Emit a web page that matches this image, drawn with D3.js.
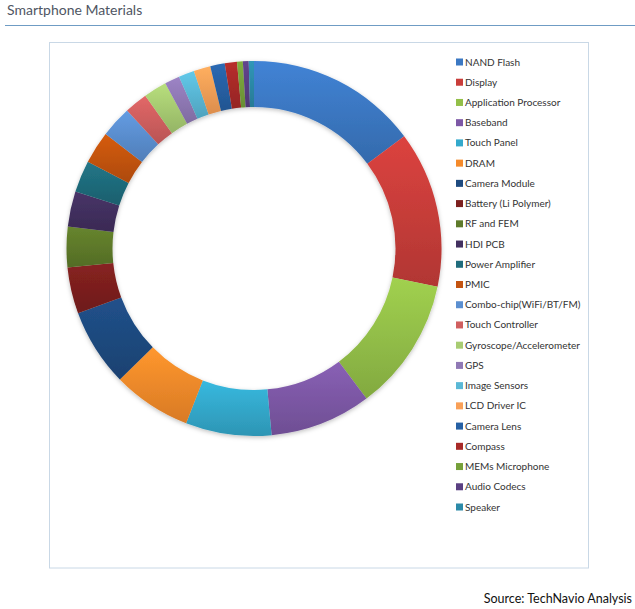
<!DOCTYPE html>
<html><head><meta charset="utf-8">
<script src="https://cdn.jsdelivr.net/npm/d3@7"></script>
<style>
html,body{margin:0;padding:0;background:#fff;}
svg{display:block;}
</style></head>
<body>
<script>
const categories = ["NAND Flash","Display","Application Processor","Baseband","Touch Panel","DRAM","Camera Module","Battery (Li Polymer)","RF and FEM","HDI PCB","Power Amplifier","PMIC","Combo-chip(WiFi/BT/FM)","Touch Controller","Gyroscope/Accelerometer","GPS","Image Sensors","LCD Driver IC","Camera Lens","Compass","MEMs Microphone","Audio Codecs","Speaker"];
const shares = [14.8,13.5,11.5,8.75,7.4,6.8,6.7,4.0,3.5,3.05,2.75,2.8,2.7,2.0,2.0,1.3,1.35,1.45,1.25,1.05,0.5,0.5,0.45];
const colors = ["#3b78c3","#c93d3a","#93bf48","#7d58a6","#33a9cc","#f58a2a","#1e4a7f","#7c1f1e","#5e7a2a","#42305f","#1f6c7c","#c45410","#5b8fd0","#d05f5f","#a8cc72","#9079b5","#5ab8d6","#f9a057","#2660a4","#a82a28","#76a03a","#5a3f82","#2c8aa8"];
const title = "Smartphone Materials";
const source = "Source: TechNavio Analysis";

const W = 635, H = 609;
const svg = d3.select("body").append("svg").attr("width", W).attr("height", H);
const defs = svg.append("defs");

// title + rule
svg.append("text").attr("x", 7).attr("y", 15).text(title)
  .style("font-family","Lato, 'Open Sans', sans-serif").style("font-size","14px").attr("fill","#4f5663");
svg.append("line").attr("x1",5).attr("x2",635).attr("y1",25.5).attr("y2",25.5)
  .attr("stroke","#6f9cc4").attr("stroke-width",1.2);

// chart box
svg.append("rect").attr("x",49.5).attr("y",42.5).attr("width",539).attr("height",525.5)
  .attr("fill","#fff").attr("stroke","#c9d8e6").attr("stroke-width",1);

// shadow filter
const f = defs.append("filter").attr("id","sh").attr("x","-20%").attr("y","-20%").attr("width","140%").attr("height","140%");
f.append("feDropShadow").attr("dx",0).attr("dy",1.5).attr("stdDeviation",2).attr("flood-color","#000").attr("flood-opacity",0.25);

// gradients
colors.forEach((c,i)=>{
  const g = defs.append("linearGradient").attr("id","g"+i).attr("x1",0).attr("y1",0).attr("x2",0).attr("y2",1);
  g.append("stop").attr("offset","0%").attr("stop-color", d3.color(c).brighter(0.25));
  g.append("stop").attr("offset","100%").attr("stop-color", d3.color(c).darker(0.35));
});

const cx = 254, cy = 248.5, R = 187.5, r = 141.5;
const pie = d3.pie().sort(null).value(d=>d.v);
const arc = d3.arc().innerRadius(r).outerRadius(R);
const data = categories.map((k,i)=>({k, v: shares[i], i}));
const g = svg.append("g").attr("transform",`translate(${cx},${cy})`);
const ring = g.append("g").attr("filter","url(#sh)");
ring.selectAll("path").data(pie(data)).join("path")
  .attr("d", arc).attr("fill", d=>`url(#g${d.data.i})`);

// legend
const ly = d3.scalePoint().domain(categories).range([62, 507]);
const leg = svg.append("g");
categories.forEach((k,i)=>{
  leg.append("rect").attr("x",456).attr("y",ly(k)-3.5).attr("width",7).attr("height",7).attr("fill",colors[i]);
  leg.append("text").attr("x",465).attr("y",ly(k)+3.5).text(k)
    .style("font-family","Lato, 'Open Sans', sans-serif").style("font-size","10px").attr("fill","#333");
});

svg.append("text").attr("x",632).attr("y",603).attr("text-anchor","end").text(source)
  .style("font-family","Lato, 'Open Sans', sans-serif").style("font-size","12.5px").attr("fill","#111");
</script>
</body></html>
